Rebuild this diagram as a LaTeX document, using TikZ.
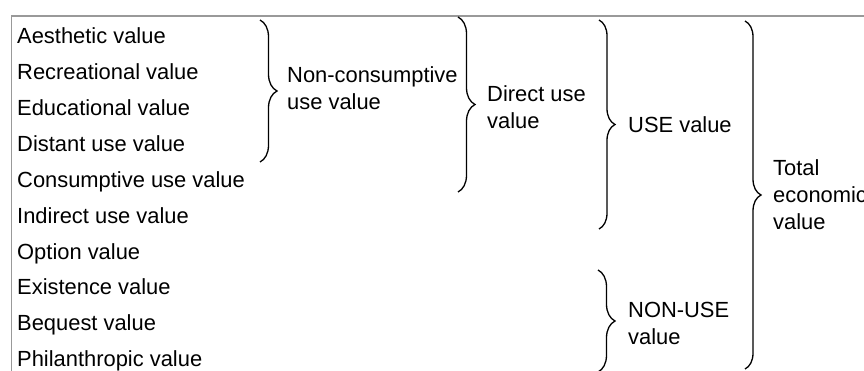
\documentclass[tikz,border=0pt]{standalone}
\usepackage{fontspec}
\setmainfont{Liberation Sans}
\usetikzlibrary{decorations.pathreplacing}
\begin{document}
\begin{tikzpicture}[x=1pt,y=-1pt,
  item/.style={anchor=base west, inner sep=0pt, font=\fontsize{21.9}{27}\selectfont},
  grouplabel/.style={item, align=left},
  curly/.style={decorate, decoration={brace, amplitude=#1}, line width=1.3pt},
  borderline/.style={draw=black!40, line width=1.5pt}]
\useasboundingbox (0,0) rectangle (864,371);
\clip (0,0) rectangle (864,371);

% outer frame (open to the right and bottom)
\draw[borderline] (11.5,15.8) rectangle (900,400);

% list of value categories
\node[item] (aes) at (17,44)     {Aesthetic value};
\node[item] (rec) at (17,79.85)  {Recreational value};
\node[item] (edu) at (17,115.7)  {Educational value};
\node[item] (dis) at (17,151.55) {Distant use value};
\node[item] (con) at (17,187.4)  {Consumptive use value};
\node[item] (ind) at (17,223.25) {Indirect use value};
\node[item] (opt) at (17,259.1)  {Option value};
\node[item] (exi) at (17,294.95) {Existence value};
\node[item] (beq) at (17,330.8)  {Bequest value};
\node[item] (phi) at (17,366.65) {Philanthropic value};

% braces grouping the categories
\coordinate (b1t) at (260,20);  \coordinate (b1b) at (260,162);
\coordinate (b2t) at (458,17);  \coordinate (b2b) at (458,192);
\coordinate (b3t) at (599,20);  \coordinate (b3b) at (599,229);
\coordinate (b4t) at (745,21);  \coordinate (b4b) at (745,369);
\coordinate (b5t) at (598,270); \coordinate (b5b) at (598,372);
\draw[curly=17] (b1t) -- (b1b);
\draw[curly=17] (b2t) -- (b2b);
\draw[curly=16] (b3t) -- (b3b);
\draw[curly=16] (b4t) -- (b4b);
\draw[curly=17] (b5t) -- (b5b);

% group names (placed by the baseline of their last line)
\node[grouplabel] (ncu) at (287,110)   {Non-consumptive\\use value};
\node[grouplabel] (dir) at (487,128.3) {Direct use\\value};
\node[grouplabel] (use) at (628,132.7) {USE value};
\node[grouplabel] (tot) at (773,230)   {Total\\economic\\value};
\node[grouplabel] (nonuse) at (628,344) {NON-USE\\value};
\end{tikzpicture}
\end{document}
